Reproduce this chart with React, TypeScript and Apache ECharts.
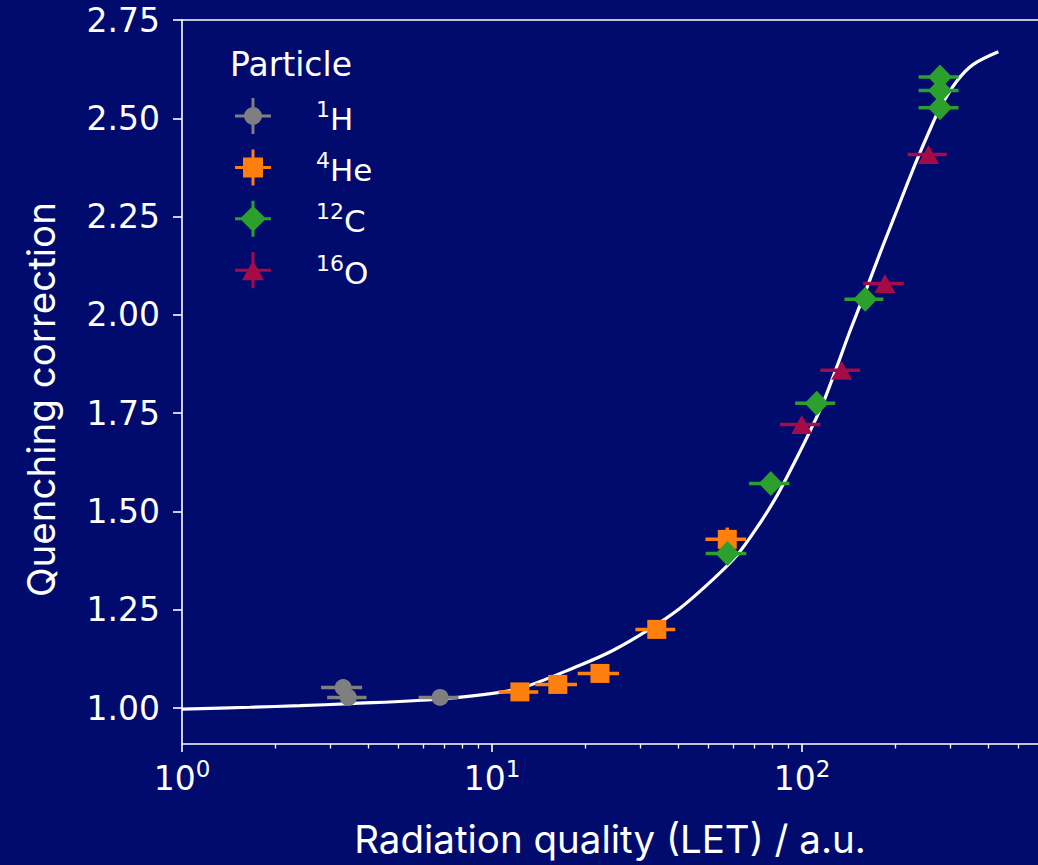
import { useEffect, useRef } from 'react';
import * as echarts from 'echarts';

// ---- data ----
const particleNames = ['¹H', '⁴He', '¹²C', '¹⁶O'];
const particleMass = ['1', '4', '12', '16'];
const particleElement = ['H', 'He', 'C', 'O'];
const particleColors = ['#7f7f7f', '#ff7f0e', '#2ca02c', '#a50b46'];
const particleSymbols = ['circle', 'rect', 'diamond', 'triangle'];
const particleSymbolSizes: (number | number[])[] = [17, 19, [24, 25], [21, 19]];

const hLET = [3.31, 3.44, 6.8];
const hQ = [1.052, 1.027, 1.027];
const hLETErr = [0.5, 0.5, 1.0];
const hQErr = [0.01, 0.01, 0.01];

const heLET = [12.3, 16.3, 22.3, 34.0, 57.4];
const heQ = [1.041, 1.06, 1.088, 1.2, 1.429];
const heLETErr = [1.8, 2.5, 3.4, 5.0, 8.6];
const heQErr = [0.015, 0.015, 0.015, 0.015, 0.03];

const cLET = [57.5, 79.3, 111.5, 160, 278.7, 278.7, 278.7];
const cQ = [1.393, 1.571, 1.775, 2.04, 2.605, 2.571, 2.527];
const cLETErr = [8.6, 11.8, 16.5, 23, 41, 41, 41];
const cQErr = [0.015, 0.015, 0.015, 0.015, 0.015, 0.015, 0.015];

const oLET = [99.8, 134.3, 185.2, 256];
const oQ = [1.721, 1.859, 2.08, 2.408];
const oLETErr = [14.9, 19.8, 27.7, 37];
const oQErr = [0.015, 0.015, 0.015, 0.015];

const fitLET = [1, 1.657, 2.403, 3.483, 6.796, 12.02, 19.22, 24.62, 31.55, 40.41, 51.74, 61.57, 71.44, 82.87, 96.14, 108.8, 117.2, 129.4, 142.8, 161.7, 178.5, 197.0, 217.7, 234.4, 255.6, 278.7, 315.5, 356.9, 429.8];
const fitQ = [0.997, 1.002, 1.006, 1.011, 1.023, 1.048, 1.109, 1.147, 1.196, 1.254, 1.328, 1.388, 1.458, 1.539, 1.636, 1.722, 1.778, 1.867, 1.959, 2.068, 2.157, 2.243, 2.33, 2.393, 2.462, 2.526, 2.594, 2.637, 2.669];

const xMajorTicks = [1, 10, 100];
const xTickExponents = ['0', '1', '2'];
const xMinorTicks = [2, 3, 4, 5, 6, 7, 8, 9, 20, 30, 40, 50, 60, 70, 80, 90, 200, 300, 400, 500];
const yTicks = [1.0, 1.25, 1.5, 1.75, 2.0, 2.25, 2.5, 2.75];

const X_MIN = 1;
const X_MAX = 577;
const Y_MIN = 0.9085;
const Y_MAX = 2.75;

const BG = '#010b6e';
const TICK_FONT = 'DejaVu Sans';
const TITLE_FONT = 'Inter';

const legendIcons = [
  'path://M0,16.5H36V19.5H0Z M16.5,0H19.5V36H16.5Z M9,18A9,9 0 1,1 27,18A9,9 0 1,1 9,18Z',
  'path://M0,16.5H36V19.5H0Z M16.5,0H19.5V36H16.5Z M8,8H28V28H8Z',
  'path://M0,16.5H36V19.5H0Z M16.5,0H19.5V36H16.5Z M18,5L31,18L18,31L5,18Z',
  'path://M0,16.5H36V19.5H0Z M16.5,0H19.5V36H16.5Z M18,8L29,28L7,28Z',
];

const groups = [
  { let: hLET, q: hQ, dx: hLETErr, dy: hQErr },
  { let: heLET, q: heQ, dx: heLETErr, dy: heQErr },
  { let: cLET, q: cQ, dx: cLETErr, dy: cQErr },
  { let: oLET, q: oQ, dx: oLETErr, dy: oQErr },
];

function errorBars(idx: number) {
  const g = groups[idx];
  const color = particleColors[idx];
  return {
    type: 'custom',
    name: particleNames[idx] + ' error',
    xAxisIndex: 0,
    yAxisIndex: 0,
    silent: true,
    z: 2,
    encode: { x: 0, y: 1 },
    data: g.let.map((x, i) => [x, g.q[i], g.dx[i], g.dy[i]]),
    renderItem: (_params: any, api: any) => {
      const x = api.value(0);
      const y = api.value(1);
      const dx = api.value(2);
      const dy = api.value(3);
      const l = api.coord([x - dx, y]);
      const r = api.coord([x + dx, y]);
      const t = api.coord([x, y + dy]);
      const b = api.coord([x, y - dy]);
      return {
        type: 'group',
        children: [
          { type: 'line', shape: { x1: l[0], y1: l[1], x2: r[0], y2: r[1] }, style: { stroke: color, lineWidth: 3.5 } },
          { type: 'line', shape: { x1: t[0], y1: t[1], x2: b[0], y2: b[1] }, style: { stroke: color, lineWidth: 3.5 } },
        ],
      };
    },
  };
}

function markers(idx: number) {
  const g = groups[idx];
  return {
    type: 'scatter',
    name: particleNames[idx],
    xAxisIndex: 0,
    yAxisIndex: 0,
    z: 2,
    symbol: particleSymbols[idx],
    symbolSize: particleSymbolSizes[idx],
    itemStyle: { color: particleColors[idx], opacity: 1 },
    emphasis: { disabled: true },
    data: g.let.map((x, i) => [x, g.q[i]]),
  };
}

export default function App() {
  const ref = useRef<HTMLDivElement>(null);
  useEffect(() => {
    if (!ref.current) return;
    const chart = echarts.init(ref.current, undefined, { renderer: 'svg' });
    const series: any[] = [
      {
        type: 'line',
        name: 'fit',
        xAxisIndex: 0,
        yAxisIndex: 0,
        z: 1,
        smooth: 0.3,
        symbol: 'none',
        lineStyle: { color: '#ffffff', width: 3.2 },
        data: fitLET.map((x, i) => [x, fitQ[i]]),
      },
    ];
    for (let i = 0; i < groups.length; i++) {
      series.push(errorBars(i));
      series.push(markers(i));
    }
    chart.setOption({
      animation: false,
      backgroundColor: BG,
      title: {
        text: 'Particle',
        left: 225,
        top: 43,
        textStyle: { color: '#ffffff', fontSize: 33, fontWeight: 'normal', fontFamily: TICK_FONT },
      },
      legend: {
        orient: 'vertical',
        left: 230,
        top: 93,
        itemWidth: 36,
        itemHeight: 36,
        itemGap: 15.4,
        selectedMode: false,
        data: particleNames.map((n, i) => ({ name: n, icon: legendIcons[i], itemStyle: { color: particleColors[i] } })),
        formatter: (name: string) => {
          const k = particleNames.indexOf(name);
          return `{sup|${particleMass[k]}}{el|${particleElement[k]}}`;
        },
        textStyle: {
          color: '#ffffff',
          fontSize: 31,
          fontFamily: TICK_FONT,
          padding: [0, 0, 0, 40],
          rich: {
            sup: { color: '#ffffff', fontSize: 22, fontFamily: TICK_FONT, lineHeight: 16, verticalAlign: 'top' },
            el: { color: '#ffffff', fontSize: 31, fontFamily: TICK_FONT, lineHeight: 36, verticalAlign: 'bottom' },
          },
        },
      },
      grid: { left: 182, right: 0, top: 20, bottom: 121, containLabel: false },
      xAxis: [
        {
          type: 'log',
          min: X_MIN,
          max: X_MAX,
          position: 'bottom',
          axisLine: { show: true, lineStyle: { color: '#ffffff', width: 1.6 } },
          axisTick: { show: true, length: 8, lineStyle: { color: '#ffffff', width: 1.6 }, customValues: xMajorTicks },
          minorTick: { show: false },
          splitLine: { show: false },
          axisLabel: {
            color: '#ffffff',
            fontSize: 33,
            fontFamily: TICK_FONT,
            margin: 13,
            lineHeight: 38,
            customValues: xMajorTicks,
            formatter: (v: number) => {
              const k = xMajorTicks.indexOf(Math.round(v));
              return k >= 0 ? `{base|10}{sup|${xTickExponents[k]}}` : '';
            },
            rich: {
              base: { color: '#ffffff', fontSize: 33, fontFamily: TICK_FONT, lineHeight: 38, verticalAlign: 'bottom' },
              sup: { color: '#ffffff', fontSize: 23, fontFamily: TICK_FONT, lineHeight: 22, verticalAlign: 'top' },
            },
          },
          name: 'Radiation quality (LET) / a.u.',
          nameLocation: 'middle',
          nameGap: 75,
          nameTextStyle: { color: '#ffffff', fontSize: 38.5, fontFamily: TITLE_FONT },
        },
        {
          type: 'log',
          min: X_MIN,
          max: X_MAX,
          position: 'bottom',
          axisLine: { show: false },
          axisTick: { show: true, length: 4.5, lineStyle: { color: '#ffffff', width: 1.3 }, customValues: xMinorTicks },
          axisLabel: { show: false },
          splitLine: { show: false },
        },
        {
          type: 'log',
          min: X_MIN,
          max: X_MAX,
          position: 'top',
          axisLine: { show: true, lineStyle: { color: '#ffffff', width: 1.6 } },
          axisTick: { show: false },
          axisLabel: { show: false },
          splitLine: { show: false },
        },
      ],
      yAxis: [
        {
          type: 'value',
          min: Y_MIN,
          max: Y_MAX,
          axisLine: { show: true, lineStyle: { color: '#ffffff', width: 1.6 } },
          axisTick: { show: true, length: 9, lineStyle: { color: '#ffffff', width: 1.6 }, customValues: yTicks },
          splitLine: { show: false },
          axisLabel: {
            color: '#ffffff',
            fontSize: 33,
            fontFamily: TICK_FONT,
            margin: 22,
            customValues: yTicks,
            formatter: (v: number) => v.toFixed(2),
          },
          name: 'Quenching correction',
          nameLocation: 'middle',
          nameRotate: 90,
          nameGap: 122,
          nameTextStyle: { color: '#ffffff', fontSize: 38.5, fontFamily: TITLE_FONT, padding: [0, 35, 0, 0] },
        },
      ],
      series,
    });
    return () => chart.dispose();
  }, []);
  return <div ref={ref} style={{ position: 'fixed', left: 0, top: 0, width: 1038, height: 865 }} />;
}
